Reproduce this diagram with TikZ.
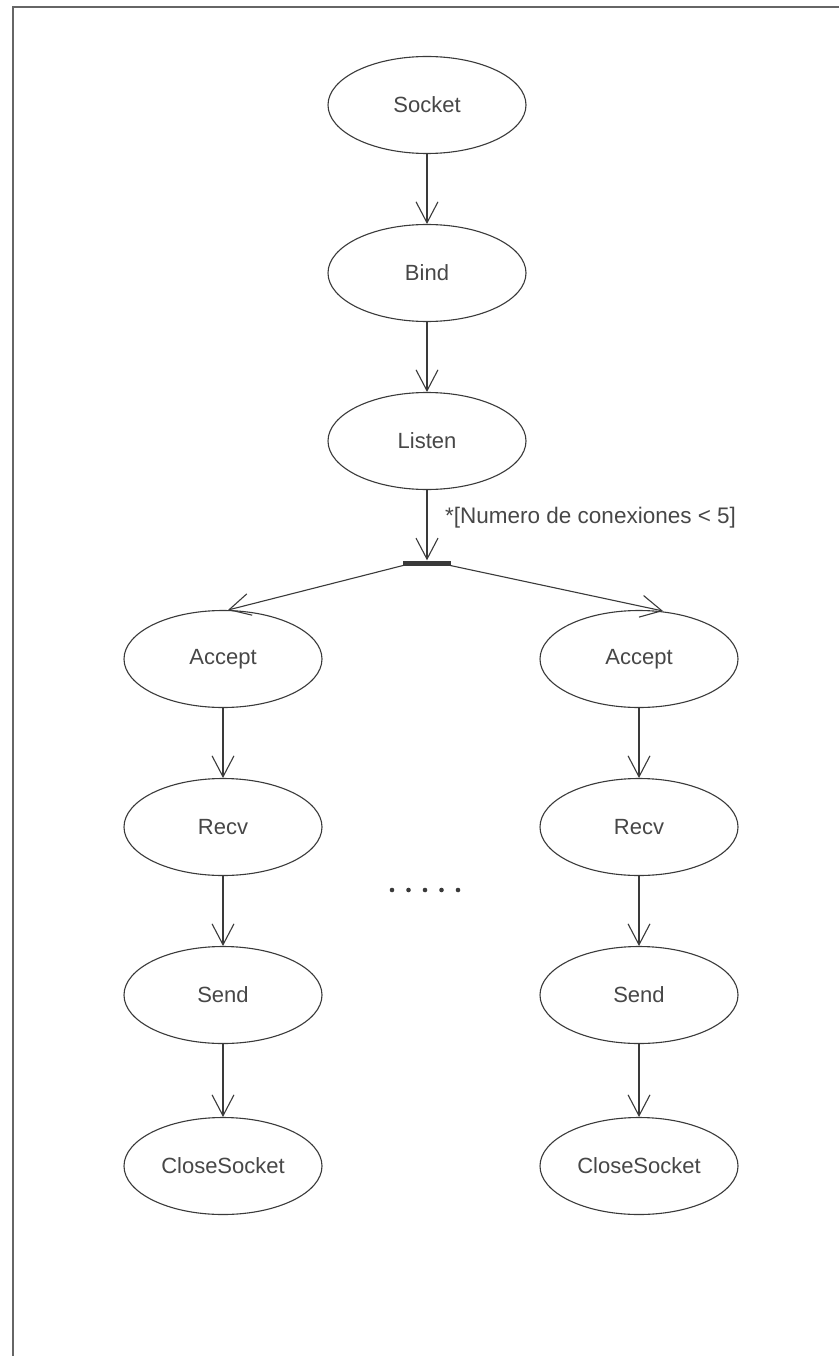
\documentclass[tikz,border=0pt]{standalone}
\usepackage{fontspec}
\setmainfont{Liberation Sans}
\usetikzlibrary{arrows.meta,shapes.geometric}
\definecolor{ink}{HTML}{3A3A3A}
\definecolor{txt}{HTML}{474747}
\begin{document}
\begin{tikzpicture}[x=1pt,y=-1pt,
  act/.style={ellipse,draw=ink,line width=1.1pt,minimum width=198pt,minimum height=97pt,
              inner sep=0pt,text=txt,font=\fontsize{22}{26}\selectfont},
  flow/.style={draw=ink,line width=1.1pt,-{Straight Barb[length=21pt,width=22pt,line width=1.1pt]}},
  guard/.style={text=txt,font=\fontsize{22.5}{26}\selectfont,anchor=base west,inner sep=0pt}]
\useasboundingbox (0,0) rectangle (839,1356);
\fill[white] (0,0) rectangle (839,1356);
% page frame
\draw[color=gray!80!black,line width=1.2pt] (13,1356) -- (13,7) -- (839,7);

% main trunk
\node[act] (socket) at (427,105) {Socket};
\node[act] (bind)   at (427,273) {Bind};
\node[act] (listen) at (427,441) {Listen};

% fork bar
\node[fill=ink,minimum width=48pt,minimum height=5pt,inner sep=0pt] (fork) at (427,563) {};
\coordinate (forkL) at (405,565);
\coordinate (forkR) at (448,565);

% left branch
\node[act] (accL) at (223,659)  {Accept};
\node[act] (recL) at (223,827)  {Recv};
\node[act] (senL) at (223,995)  {Send};
\node[act] (cloL) at (223,1166) {CloseSocket};

% right branch
\node[act] (accR) at (639,659)  {Accept};
\node[act] (recR) at (639,827)  {Recv};
\node[act] (senR) at (639,995)  {Send};
\node[act] (cloR) at (639,1166) {CloseSocket};

\coordinate (accLtop) at (228,610);
\coordinate (accRtop) at (663,611);

\draw[flow] (socket) -- (bind);
\draw[flow] (bind) -- (listen);
\draw[flow] (listen) -- (fork.north);
\node[guard] (cond) at (445,523) {*[Numero de conexiones < 5]};
\draw[flow] (forkL) -- (accLtop);
\draw[flow] (forkR) -- (accRtop);

\draw[flow] (accL) -- (recL);
\draw[flow] (recL) -- (senL);
\draw[flow] (senL) -- (cloL);
\draw[flow] (accR) -- (recR);
\draw[flow] (recR) -- (senR);
\draw[flow] (senR) -- (cloR);

% ellipsis between the branches
\foreach \i in {0,...,4}
  \fill[ink] (392+16.5*\i,890) circle (2.3pt);
\end{tikzpicture}
\end{document}
